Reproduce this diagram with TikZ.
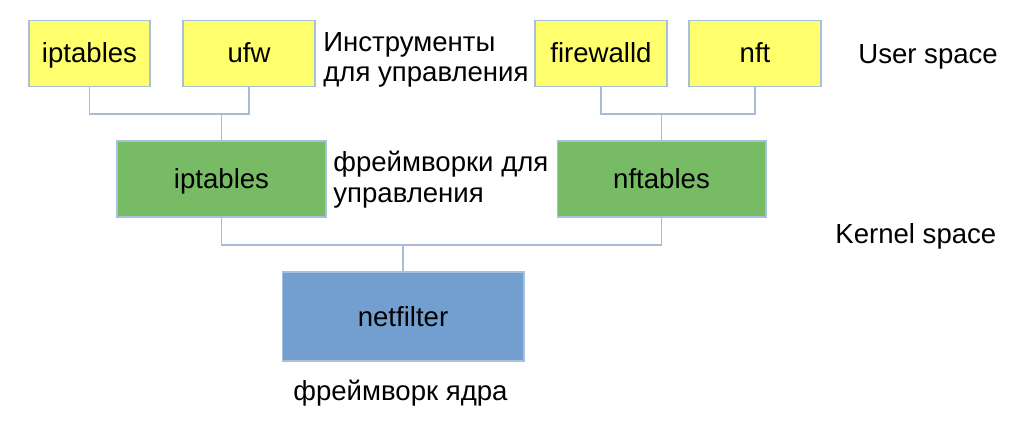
\documentclass[tikz,border=0pt]{standalone}
\usepackage{fontspec}
\setmainfont{Liberation Sans}
\begin{document}
\begin{tikzpicture}[x=0.02cm,y=-0.02cm,
  box/.style={draw=bordc, line width=0.6pt, rectangle, inner sep=0pt,
    font=\fontsize{15.7}{17.3}\selectfont, text height=14.2pt, text depth=3.33pt},
  ubox/.style={box, fill=ufill, minimum height=1.31cm},
  kbox/.style={box, fill=kfill, minimum height=1.52cm},
  nbox/.style={box, fill=nfill, minimum height=1.78cm},
  conn/.style={draw=connc, line width=0.6pt},
  lbl/.style={inner sep=0pt, font=\fontsize{15.7}{17.3}\selectfont, align=left}]
\definecolor{ufill}{HTML}{FFFF6D}
\definecolor{kfill}{HTML}{77BC65}
\definecolor{nfill}{HTML}{729FCF}
\definecolor{bordc}{HTML}{A9C0DC}
\definecolor{connc}{HTML}{A9BCD6}
\useasboundingbox (0,0) rectangle (1024,427);
\fill[white] (0,0) rectangle (1024,427);
% user space tools
\node[ubox, minimum width=2.42cm] (ipu) at (89.5,53.3) {iptables};
\node[ubox, minimum width=2.64cm] (ufw) at (249,53.3) {ufw};
\node[ubox, minimum width=2.64cm] (fwd) at (601,53.3) {firewalld};
\node[ubox, minimum width=2.64cm] (nft) at (755,53.3) {nft};
% kernel frameworks
\node[kbox, minimum width=4.18cm] (ipk) at (221.5,179) {iptables};
\node[kbox, minimum width=4.18cm] (nfk) at (661.5,179) {nftables};
\node[nbox, minimum width=4.84cm] (net) at (403,316.5) {netfilter};
% labels
\node[lbl, anchor=west] (tools) at (323,60) {Инструменты\\для управления};
\node[lbl, anchor=west] (fw) at (333,179.5) {фреймворки для\\управления};
\node[lbl, anchor=base west] (us) at (858,63) {User space};
\node[lbl, anchor=base west] (ks) at (835,243) {Kernel space};
\node[lbl, anchor=base west] (kf) at (293,400) {фреймворк ядра};
% junctions
\coordinate (jl) at (221.5,114);
\coordinate (jr) at (661.5,114);
\coordinate (jb) at (403,245);
\draw[conn] (ipu.south) |- (jl);
\draw[conn] (ufw.south) |- (jl);
\draw[conn] (jl) -- (ipk.north);
\draw[conn] (fwd.south) |- (jr);
\draw[conn] (nft.south) |- (jr);
\draw[conn] (jr) -- (nfk.north);
\draw[conn] (ipk.south) |- (jb);
\draw[conn] (nfk.south) |- (jb);
\draw[conn] (jb) -- (net.north);
\end{tikzpicture}
\end{document}
